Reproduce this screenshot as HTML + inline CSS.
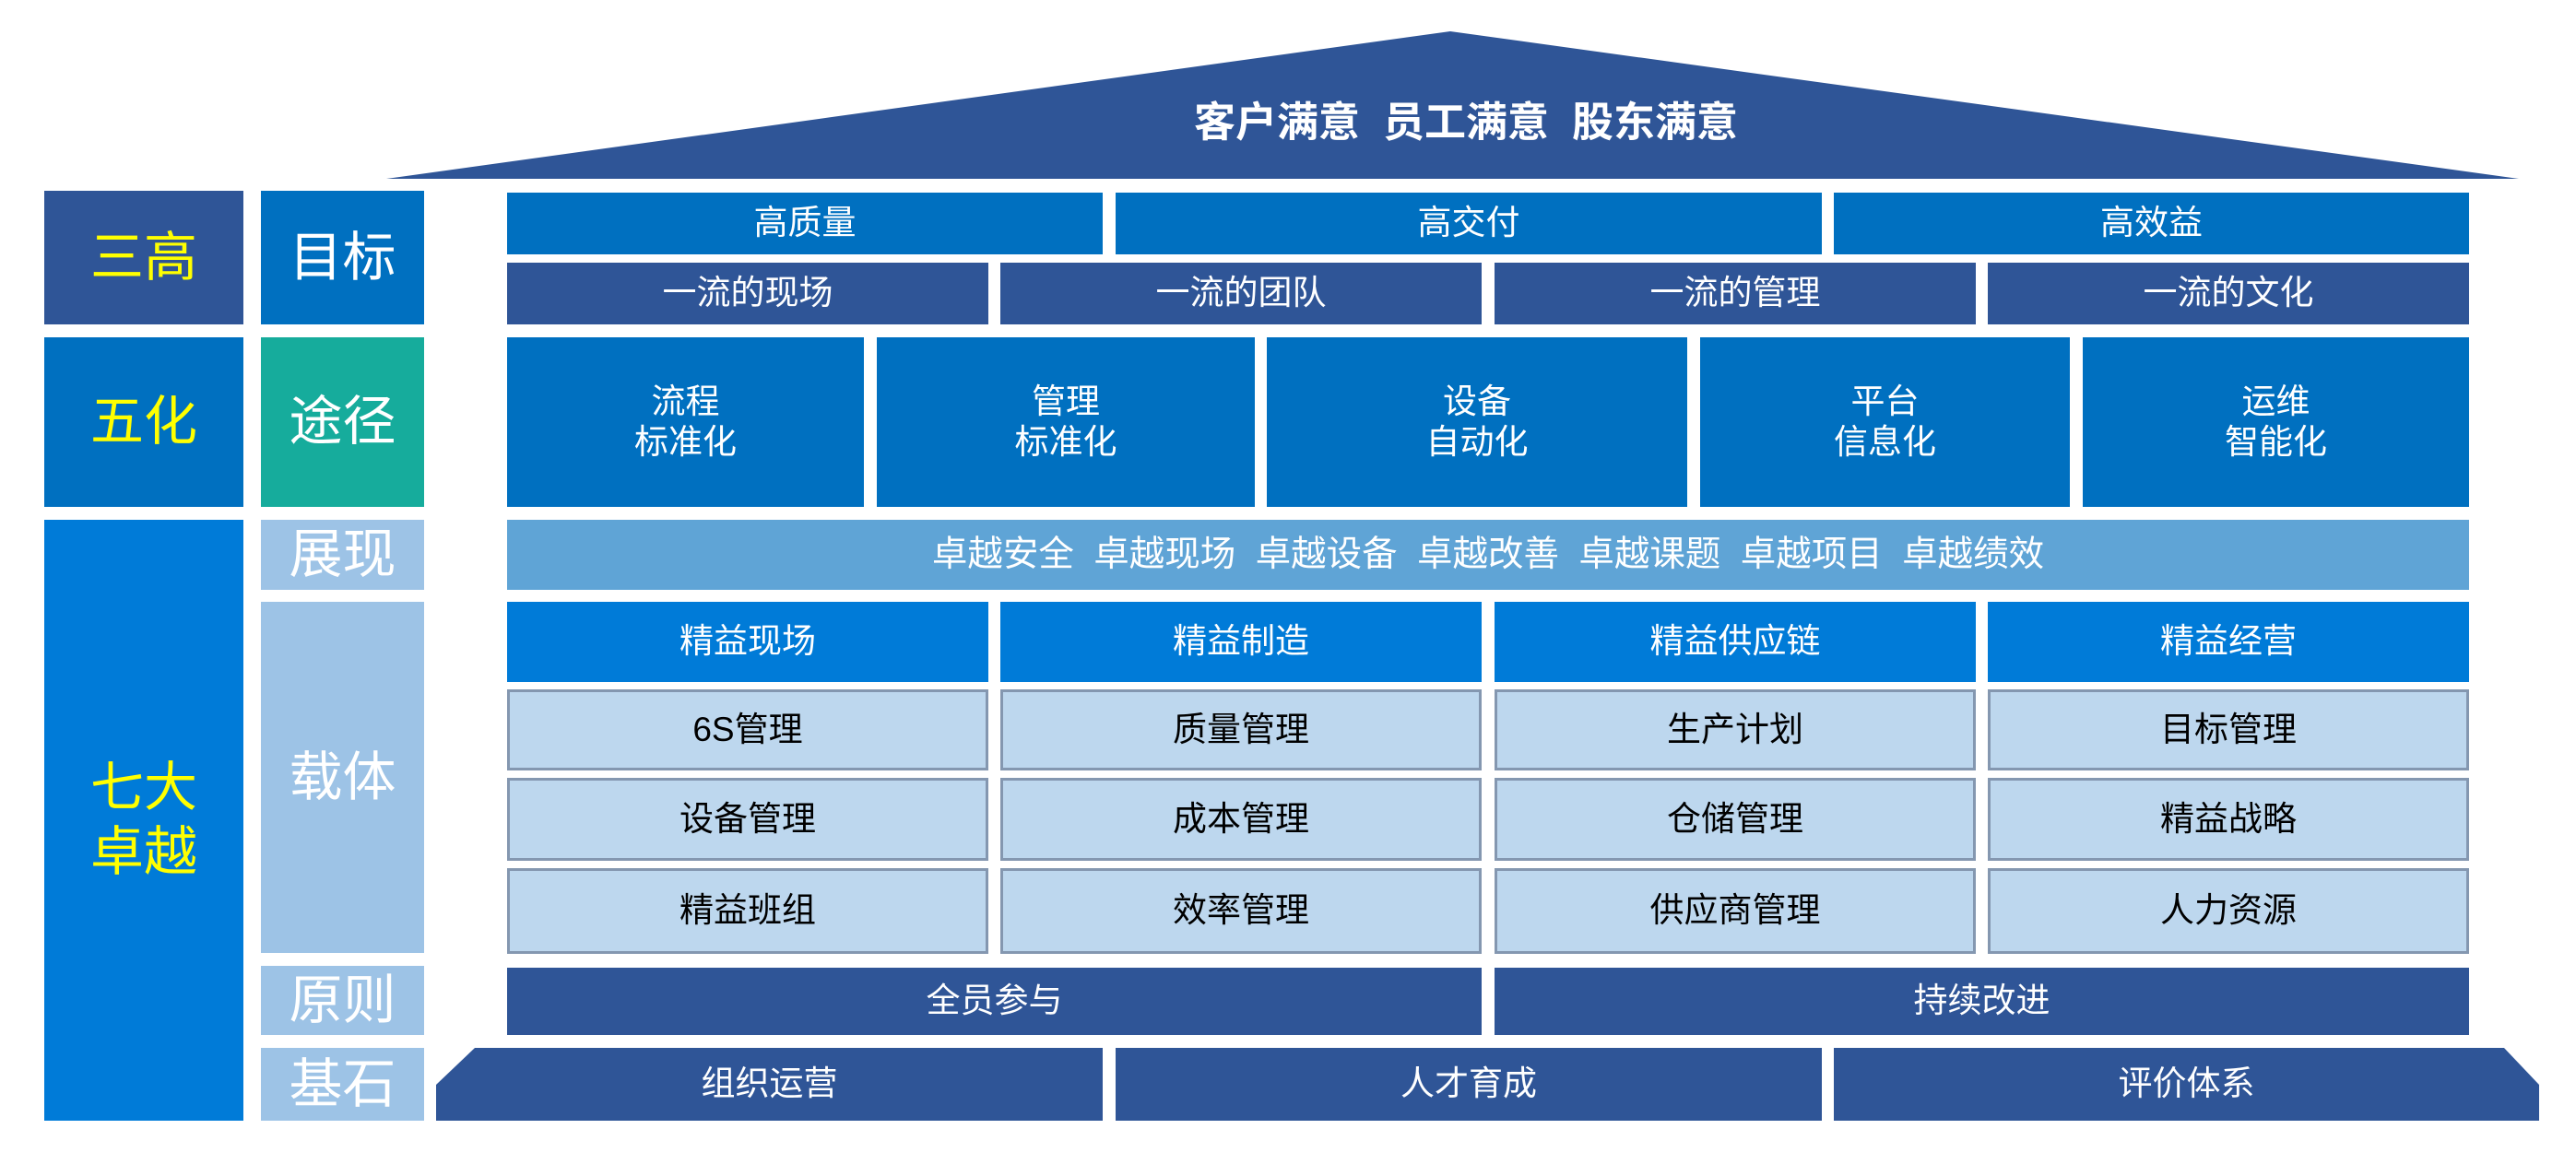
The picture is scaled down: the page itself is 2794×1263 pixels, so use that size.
<!DOCTYPE html>
<html><head><meta charset="utf-8"><style>
body{margin:0;width:2794px;height:1263px;background:#fff;position:relative;overflow:hidden;font-family:"Liberation Sans","Noto Sans CJK SC",sans-serif;}
.b{position:absolute;display:flex;align-items:center;justify-content:center;text-align:center;color:#fff;box-sizing:border-box;line-height:1.2;}
.n{background:#2F5597}.u{background:#0070C0}.v{background:#007BD8}.t{background:#16AC9C}.l{background:#9DC3E6}
.c{background:#BDD7EE;border:3px solid #8497B0;color:#000;font-size:37px}
.big{font-size:58px}.y{color:#FFFF00}
.m{font-size:37px}
</style></head><body>
<svg style="position:absolute;left:0;top:0" width="2794" height="1263">
<polygon points="419,194 1573,34 2732,194" fill="#2F5597"/>
<polygon points="515,1137 2716,1137 2754,1177 2754,1216 473,1216 473,1177" fill="#2F5597"/>
<rect x="1196" y="1137" width="14" height="80" fill="#fff"/>
<rect x="1976" y="1137" width="13" height="80" fill="#fff"/>
</svg>
<div class="b" style="left:1180px;top:103px;width:820px;height:60px;font-size:45px;font-weight:bold;white-space:pre">客户满意  员工满意  股东满意</div>

<div class="b n big y" style="left:48px;top:207px;width:216px;height:145px">三高</div>
<div class="b u big" style="left:283px;top:207px;width:177px;height:145px">目标</div>
<div class="b u big y" style="left:48px;top:366px;width:216px;height:184px">五化</div>
<div class="b t big" style="left:283px;top:366px;width:177px;height:184px">途径</div>
<div class="b v big y" style="left:48px;top:564px;width:216px;height:652px">七大<br>卓越</div>
<div class="b l big" style="left:283px;top:564px;width:177px;height:76px">展现</div>
<div class="b l big" style="left:283px;top:653px;width:177px;height:381px">载体</div>
<div class="b l big" style="left:283px;top:1048px;width:177px;height:75px">原则</div>
<div class="b l big" style="left:283px;top:1137px;width:177px;height:79px">基石</div>

<div class="b u m" style="left:550px;top:209px;width:646px;height:67px">高质量</div>
<div class="b u m" style="left:1210px;top:209px;width:766px;height:67px">高交付</div>
<div class="b u m" style="left:1989px;top:209px;width:689px;height:67px">高效益</div>

<div class="b n m" style="left:550px;top:285px;width:522px;height:67px">一流的现场</div>
<div class="b n m" style="left:1085px;top:285px;width:522px;height:67px">一流的团队</div>
<div class="b n m" style="left:1621px;top:285px;width:522px;height:67px">一流的管理</div>
<div class="b n m" style="left:2156px;top:285px;width:522px;height:67px">一流的文化</div>

<div class="b u m" style="left:550px;top:366px;width:387px;height:184px">流程<br>标准化</div>
<div class="b u m" style="left:951px;top:366px;width:410px;height:184px">管理<br>标准化</div>
<div class="b u m" style="left:1374px;top:366px;width:456px;height:184px">设备<br>自动化</div>
<div class="b u m" style="left:1844px;top:366px;width:401px;height:184px">平台<br>信息化</div>
<div class="b u m" style="left:2259px;top:366px;width:419px;height:184px">运维<br>智能化</div>

<div class="b" style="left:550px;top:564px;width:2128px;height:76px;background:#5FA4D6;white-space:pre;font-size:38.5px">卓越安全  卓越现场  卓越设备  卓越改善  卓越课题  卓越项目  卓越绩效</div>

<div class="b v m" style="left:550px;top:653px;width:522px;height:87px">精益现场</div>
<div class="b v m" style="left:1085px;top:653px;width:522px;height:87px">精益制造</div>
<div class="b v m" style="left:1621px;top:653px;width:522px;height:87px">精益供应链</div>
<div class="b v m" style="left:2156px;top:653px;width:522px;height:87px">精益经营</div>

<div class="b c" style="left:550px;top:748px;width:522px;height:88px">6S管理</div>
<div class="b c" style="left:1085px;top:748px;width:522px;height:88px">质量管理</div>
<div class="b c" style="left:1621px;top:748px;width:522px;height:88px">生产计划</div>
<div class="b c" style="left:2156px;top:748px;width:522px;height:88px">目标管理</div>
<div class="b c" style="left:550px;top:844px;width:522px;height:90px">设备管理</div>
<div class="b c" style="left:1085px;top:844px;width:522px;height:90px">成本管理</div>
<div class="b c" style="left:1621px;top:844px;width:522px;height:90px">仓储管理</div>
<div class="b c" style="left:2156px;top:844px;width:522px;height:90px">精益战略</div>
<div class="b c" style="left:550px;top:942px;width:522px;height:93px">精益班组</div>
<div class="b c" style="left:1085px;top:942px;width:522px;height:93px">效率管理</div>
<div class="b c" style="left:1621px;top:942px;width:522px;height:93px">供应商管理</div>
<div class="b c" style="left:2156px;top:942px;width:522px;height:93px">人力资源</div>

<div class="b n m" style="left:550px;top:1050px;width:1057px;height:73px">全员参与</div>
<div class="b n m" style="left:1621px;top:1050px;width:1057px;height:73px">持续改进</div>

<div class="b m" style="left:473px;top:1137px;width:723px;height:79px">组织运营</div>
<div class="b m" style="left:1210px;top:1137px;width:766px;height:79px">人才育成</div>
<div class="b m" style="left:1989px;top:1137px;width:765px;height:79px">评价体系</div>
</body></html>
